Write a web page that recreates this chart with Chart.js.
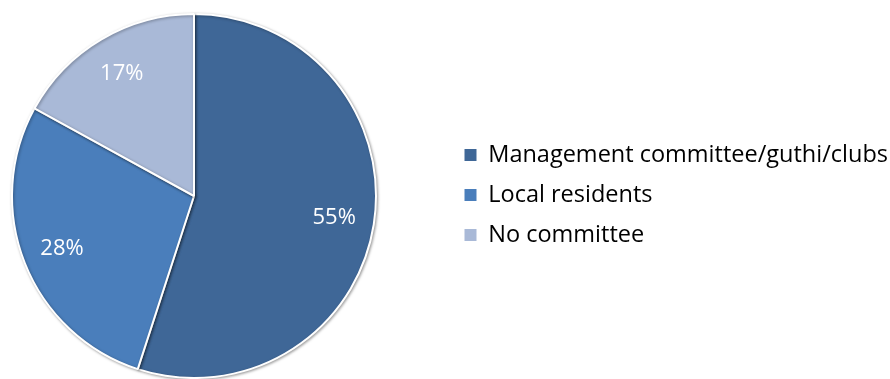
<!DOCTYPE html>
<html>
<head>
<meta charset="utf-8">
<script src="https://cdn.jsdelivr.net/npm/chart.js@4"></script>
<style>
  html, body { margin: 0; padding: 0; background: #fff; overflow: hidden; }
  body { width: 890px; height: 379px; position: relative; }
  #wrap { position: absolute; left: -60px; top: 0; width: 950px; height: 379px; }
</style>
</head>
<body>
<div id="wrap"><canvas id="pie"></canvas></div>
<script>
const categories = ['Management committee/guthi/clubs', 'Local residents', 'No committee'];
const shares = [55, 28, 17];
const sliceColors = ['#3f6797', '#4a7ebb', '#a9b9d7'];

// fixed legend width so the pie sits left and the key starts near x=465
const legendWidth = {
  id: 'legendWidth',
  beforeInit(chart) {
    const fit = chart.legend.fit;
    chart.legend.fit = function () {
      fit.bind(chart.legend)();
      this.width = 442;
    };
  },
  afterLayout(chart) {
    chart.legend.top -= 1;
    chart.legend.bottom -= 1;
  }
};

// soft edge shadow under the slices
const pieShadow = {
  id: 'pieShadow',
  beforeDatasetDraw(chart) {
    const ctx = chart.ctx;
    ctx.save();
    ctx.shadowColor = 'rgba(0,0,0,0.35)';
    ctx.shadowBlur = 3;
    ctx.shadowOffsetX = 1;
    ctx.shadowOffsetY = 1;
  },
  afterDatasetDraw(chart) {
    chart.ctx.restore();
  }
};

// percentage labels inside each slice
const sliceLabels = {
  id: 'sliceLabels',
  afterDatasetsDraw(chart) {
    const ctx = chart.ctx;
    const meta = chart.getDatasetMeta(0);
    ctx.save();
    ctx.fillStyle = '#ffffff';
    ctx.font = '22px "Open Sans"';
    ctx.textAlign = 'center';
    ctx.textBaseline = 'middle';
    meta.data.forEach((arc, i) => {
      const { x, y, startAngle, endAngle, outerRadius } = arc.getProps(['x', 'y', 'startAngle', 'endAngle', 'outerRadius'], true);
      const mid = (startAngle + endAngle) / 2;
      const r = outerRadius * 0.78;
      ctx.fillText(shares[i] + '%', x + Math.cos(mid) * r, y + Math.sin(mid) * r);
    });
    ctx.restore();
  }
};

new Chart(document.getElementById('pie'), {
  type: 'pie',
  data: {
    labels: categories,
    datasets: [{
      data: shares,
      backgroundColor: sliceColors,
      borderColor: '#ffffff',
      borderWidth: 2
    }]
  },
  options: {
    responsive: true,
    maintainAspectRatio: false,
    animation: false,
    radius: 182,
    layout: { padding: { top: 13, bottom: 0, left: 0, right: 0 } },
    plugins: {
      tooltip: { enabled: false },
      legend: {
        position: 'right',
        labels: {
          boxWidth: 12,
          boxHeight: 12,
          padding: 16.5,
          color: '#000000',
          font: { family: '"Open Sans"', size: 23.5 },
          generateLabels(chart) {
            return Chart.overrides.pie.plugins.legend.labels.generateLabels(chart)
              .map(item => ({ ...item, lineWidth: 0, strokeStyle: 'rgba(0,0,0,0)' }));
          }
        }
      }
    }
  },
  plugins: [legendWidth, pieShadow, sliceLabels]
});
</script>
</body>
</html>
